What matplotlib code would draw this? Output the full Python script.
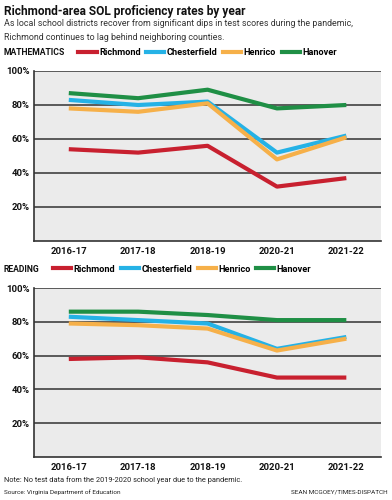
import matplotlib.pyplot as plt
from matplotlib.lines import Line2D

years = ['2016-17', '2017-18', '2018-19', '2020-21', '2021-22']
districts = ['Richmond', 'Chesterfield', 'Henrico', 'Hanover']
colors = ['#c8202f', '#25b2e6', '#f6b049', '#1f8f45']

math_richmond = [54, 52, 56, 32, 37]
math_chesterfield = [83, 80, 82, 52, 62]
math_henrico = [78, 76, 81, 48, 61]
math_hanover = [87, 84, 89, 78, 80]

read_richmond = [58, 59, 56, 47, 47]
read_chesterfield = [83, 81, 79, 64, 71]
read_henrico = [79, 78, 76, 63, 70]
read_hanover = [86, 86, 84, 81, 81]

yticks = [20, 40, 60, 80, 100]
ylabels = ['20%', '40%', '60%', '80%', '100%']

plt.rcParams['font.family'] = ['Roboto', 'DejaVu Sans']

fig = plt.figure(figsize=(3.92, 5), dpi=100)

fig.text(0.01, 0.976, 'Richmond-area SOL proficiency rates by year', fontsize=8.6,
         fontweight='bold', va='center', color='#111111')
fig.text(0.01, 0.952, 'As local school districts recover from significant dips in test scores during the pandemic,',
         fontsize=6.4, va='center', color='#333333')
fig.text(0.01, 0.926, 'Richmond continues to lag behind neighboring counties.',
         fontsize=6.4, va='center', color='#333333')


def panel(rect, label, label_y, leg_x, data):
    ax = fig.add_axes(rect)
    ax.set_facecolor('#ebebeb')
    x = range(len(years))
    for vals, c in zip(data, colors):
        ax.plot(x, vals, color=c, lw=3, solid_capstyle='butt', zorder=3)
    ax.set_xlim(-0.5, 4.5)
    ax.set_ylim(0, 100)
    ax.set_yticks(yticks)
    ax.set_yticklabels(ylabels)
    ax.set_xticks(list(x))
    ax.set_xticklabels(years)
    for y in yticks:
        ax.axhline(y, color='#333333', lw=1.1, zorder=1)
    for s in ['top', 'right']:
        ax.spines[s].set_visible(False)
    for s in ['left', 'bottom']:
        ax.spines[s].set_color('#333333')
        ax.spines[s].set_linewidth(1.2)
    ax.tick_params(length=0, labelsize=6.8, pad=4)
    for t in ax.get_xticklabels() + ax.get_yticklabels():
        t.set_fontweight('bold')
        t.set_color('#111111')
    ax.tick_params(axis='y', pad=3)
    fig.text(0.01, label_y, label, fontsize=6.2, fontweight='bold', va='center', color='#111111')
    handles = [Line2D([0], [0], color=c, lw=3) for c in colors]
    fig.legend(handles, districts, loc='center left', bbox_to_anchor=(leg_x, label_y),
               ncol=4, frameon=False, handlelength=2.0, handletextpad=0.25,
               columnspacing=0.6, borderpad=0, borderaxespad=0,
               prop={'family': 'Roboto', 'weight': 'bold', 'size': 6.6})
    return ax


panel([0.087, 0.518, 0.885, 0.34], 'MATHEMATICS', 0.895, 0.2,
      [math_richmond, math_chesterfield, math_henrico, math_hanover])
panel([0.087, 0.086, 0.885, 0.338], 'READING', 0.462, 0.135,
      [read_richmond, read_chesterfield, read_henrico, read_hanover])

fig.text(0.01, 0.04, 'Note: No test data from the 2019-2020 school year due to the pandemic.',
         fontsize=5.3, va='center', color='#222222')
fig.text(0.01, 0.016, 'Source: Virginia Department of Education',
         fontsize=4.6, va='center', color='#222222')
fig.text(0.99, 0.016, 'SEAN MCGOEY/TIMES-DISPATCH',
         fontsize=4.6, va='center', ha='right', color='#222222')

fig.savefig('out.png', dpi=100)
